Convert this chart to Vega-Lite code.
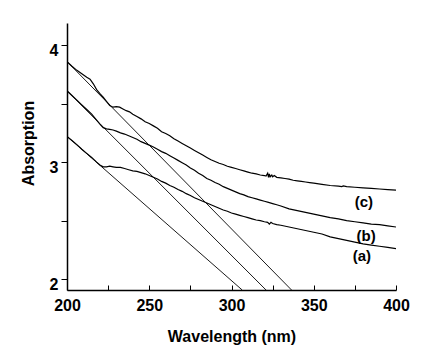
{
"$schema": "https://vega.github.io/schema/vega-lite/v6.json",
"width": 329, "height": 267,
"autosize": {"type": "none"},
"padding": {"left": 67, "top": 23, "right": 35, "bottom": 63},
"background": "white",
"config": {"view": {"stroke": null}, "font": "Liberation Sans"},
"datasets": {
"curves": [
{"s":"c","x":200,"y":3.86},{"s":"c","x":203,"y":3.82},{"s":"c","x":206,"y":3.785},{"s":"c","x":209,"y":3.755},{"s":"c","x":212,"y":3.725},{"s":"c","x":214,"y":3.71},{"s":"c","x":216,"y":3.67},{"s":"c","x":218,"y":3.62},{"s":"c","x":220,"y":3.585},{"s":"c","x":222,"y":3.555},{"s":"c","x":224,"y":3.52},{"s":"c","x":226,"y":3.485},{"s":"c","x":228,"y":3.47},{"s":"c","x":230,"y":3.475},{"s":"c","x":232,"y":3.47},{"s":"c","x":234,"y":3.455},{"s":"c","x":236,"y":3.44},{"s":"c","x":238,"y":3.43},{"s":"c","x":240,"y":3.41},{"s":"c","x":242.5,"y":3.39},{"s":"c","x":245,"y":3.37},{"s":"c","x":247.5,"y":3.345},{"s":"c","x":250,"y":3.33},{"s":"c","x":252.5,"y":3.31},{"s":"c","x":255,"y":3.29},{"s":"c","x":257.5,"y":3.26},{"s":"c","x":260,"y":3.245},{"s":"c","x":262.5,"y":3.225},{"s":"c","x":265,"y":3.2},{"s":"c","x":267.5,"y":3.18},{"s":"c","x":270,"y":3.16},{"s":"c","x":272.5,"y":3.14},{"s":"c","x":275,"y":3.12},{"s":"c","x":277.5,"y":3.1},{"s":"c","x":280,"y":3.08},{"s":"c","x":282.5,"y":3.06},{"s":"c","x":285,"y":3.04},{"s":"c","x":287.5,"y":3.02},{"s":"c","x":290,"y":3.005},{"s":"c","x":292.5,"y":2.99},{"s":"c","x":295,"y":2.98},{"s":"c","x":297.5,"y":2.965},{"s":"c","x":300,"y":2.955},{"s":"c","x":302.5,"y":2.945},{"s":"c","x":305,"y":2.935},{"s":"c","x":307.5,"y":2.925},{"s":"c","x":310,"y":2.915},{"s":"c","x":312.5,"y":2.905},{"s":"c","x":315,"y":2.9},{"s":"c","x":317.5,"y":2.89},{"s":"c","x":320,"y":2.885},{"s":"c","x":321,"y":2.88},{"s":"c","x":322,"y":2.905},{"s":"c","x":322.5,"y":2.87},{"s":"c","x":323,"y":2.9},{"s":"c","x":323.5,"y":2.875},{"s":"c","x":324.5,"y":2.89},{"s":"c","x":325,"y":2.875},{"s":"c","x":326,"y":2.885},{"s":"c","x":327.5,"y":2.87},{"s":"c","x":330,"y":2.865},{"s":"c","x":332.5,"y":2.86},{"s":"c","x":335,"y":2.855},{"s":"c","x":337.5,"y":2.845},{"s":"c","x":340,"y":2.84},{"s":"c","x":342.5,"y":2.835},{"s":"c","x":345,"y":2.83},{"s":"c","x":347.5,"y":2.825},{"s":"c","x":350,"y":2.82},{"s":"c","x":355,"y":2.81},{"s":"c","x":360,"y":2.8},{"s":"c","x":365,"y":2.795},{"s":"c","x":367,"y":2.79},{"s":"c","x":368,"y":2.797},{"s":"c","x":370,"y":2.79},{"s":"c","x":375,"y":2.785},{"s":"c","x":380,"y":2.78},{"s":"c","x":385,"y":2.775},{"s":"c","x":390,"y":2.77},{"s":"c","x":395,"y":2.765},{"s":"c","x":400,"y":2.76},
{"s":"b","x":200,"y":3.61},{"s":"b","x":203,"y":3.57},{"s":"b","x":206,"y":3.53},{"s":"b","x":209,"y":3.49},{"s":"b","x":212,"y":3.45},{"s":"b","x":215,"y":3.41},{"s":"b","x":218,"y":3.36},{"s":"b","x":220,"y":3.325},{"s":"b","x":222,"y":3.295},{"s":"b","x":224,"y":3.285},{"s":"b","x":226,"y":3.28},{"s":"b","x":228,"y":3.275},{"s":"b","x":230,"y":3.265},{"s":"b","x":232.5,"y":3.25},{"s":"b","x":235,"y":3.24},{"s":"b","x":237.5,"y":3.225},{"s":"b","x":240,"y":3.21},{"s":"b","x":242.5,"y":3.195},{"s":"b","x":245,"y":3.175},{"s":"b","x":247.5,"y":3.16},{"s":"b","x":250,"y":3.145},{"s":"b","x":252.5,"y":3.13},{"s":"b","x":255,"y":3.11},{"s":"b","x":257.5,"y":3.09},{"s":"b","x":260,"y":3.075},{"s":"b","x":262.5,"y":3.055},{"s":"b","x":265,"y":3.035},{"s":"b","x":267.5,"y":3.015},{"s":"b","x":270,"y":2.995},{"s":"b","x":272.5,"y":2.975},{"s":"b","x":275,"y":2.95},{"s":"b","x":277.5,"y":2.93},{"s":"b","x":280,"y":2.905},{"s":"b","x":282.5,"y":2.885},{"s":"b","x":285,"y":2.86},{"s":"b","x":287.5,"y":2.845},{"s":"b","x":290,"y":2.825},{"s":"b","x":292.5,"y":2.81},{"s":"b","x":295,"y":2.79},{"s":"b","x":297.5,"y":2.775},{"s":"b","x":300,"y":2.76},{"s":"b","x":302.5,"y":2.745},{"s":"b","x":305,"y":2.73},{"s":"b","x":307.5,"y":2.72},{"s":"b","x":310,"y":2.705},{"s":"b","x":312.5,"y":2.695},{"s":"b","x":315,"y":2.685},{"s":"b","x":317.5,"y":2.675},{"s":"b","x":320,"y":2.665},{"s":"b","x":322.5,"y":2.655},{"s":"b","x":325,"y":2.645},{"s":"b","x":327.5,"y":2.635},{"s":"b","x":330,"y":2.625},{"s":"b","x":335,"y":2.6},{"s":"b","x":340,"y":2.585},{"s":"b","x":345,"y":2.57},{"s":"b","x":350,"y":2.555},{"s":"b","x":355,"y":2.54},{"s":"b","x":360,"y":2.525},{"s":"b","x":365,"y":2.515},{"s":"b","x":370,"y":2.5},{"s":"b","x":375,"y":2.49},{"s":"b","x":380,"y":2.48},{"s":"b","x":385,"y":2.47},{"s":"b","x":390,"y":2.465},{"s":"b","x":395,"y":2.455},{"s":"b","x":400,"y":2.445},
{"s":"a","x":200,"y":3.22},{"s":"a","x":203,"y":3.185},{"s":"a","x":206,"y":3.15},{"s":"a","x":209,"y":3.11},{"s":"a","x":212,"y":3.075},{"s":"a","x":215,"y":3.04},{"s":"a","x":218,"y":3.0},{"s":"a","x":220,"y":2.975},{"s":"a","x":222,"y":2.96},{"s":"a","x":224,"y":2.96},{"s":"a","x":226,"y":2.965},{"s":"a","x":228,"y":2.96},{"s":"a","x":230,"y":2.955},{"s":"a","x":232.5,"y":2.955},{"s":"a","x":235,"y":2.945},{"s":"a","x":237.5,"y":2.935},{"s":"a","x":240,"y":2.925},{"s":"a","x":242.5,"y":2.92},{"s":"a","x":245,"y":2.91},{"s":"a","x":247.5,"y":2.9},{"s":"a","x":250,"y":2.885},{"s":"a","x":252.5,"y":2.87},{"s":"a","x":255,"y":2.855},{"s":"a","x":257.5,"y":2.835},{"s":"a","x":260,"y":2.82},{"s":"a","x":262.5,"y":2.8},{"s":"a","x":265,"y":2.785},{"s":"a","x":267.5,"y":2.765},{"s":"a","x":270,"y":2.75},{"s":"a","x":272.5,"y":2.73},{"s":"a","x":275,"y":2.715},{"s":"a","x":277.5,"y":2.695},{"s":"a","x":280,"y":2.68},{"s":"a","x":282.5,"y":2.665},{"s":"a","x":285,"y":2.65},{"s":"a","x":287.5,"y":2.635},{"s":"a","x":290,"y":2.62},{"s":"a","x":292.5,"y":2.605},{"s":"a","x":295,"y":2.59},{"s":"a","x":297.5,"y":2.58},{"s":"a","x":300,"y":2.565},{"s":"a","x":302.5,"y":2.555},{"s":"a","x":305,"y":2.545},{"s":"a","x":307.5,"y":2.535},{"s":"a","x":310,"y":2.525},{"s":"a","x":312.5,"y":2.515},{"s":"a","x":315,"y":2.505},{"s":"a","x":317.5,"y":2.5},{"s":"a","x":320,"y":2.49},{"s":"a","x":322,"y":2.485},{"s":"a","x":323,"y":2.47},{"s":"a","x":324,"y":2.485},{"s":"a","x":325,"y":2.475},{"s":"a","x":327.5,"y":2.465},{"s":"a","x":330,"y":2.46},{"s":"a","x":335,"y":2.445},{"s":"a","x":340,"y":2.43},{"s":"a","x":345,"y":2.415},{"s":"a","x":350,"y":2.4},{"s":"a","x":355,"y":2.385},{"s":"a","x":360,"y":2.36},{"s":"a","x":365,"y":2.345},{"s":"a","x":370,"y":2.33},{"s":"a","x":375,"y":2.315},{"s":"a","x":380,"y":2.3},{"s":"a","x":385,"y":2.29},{"s":"a","x":390,"y":2.28},{"s":"a","x":395,"y":2.27},{"s":"a","x":400,"y":2.26}
],
"tangents": [
{"s":"c","x":200,"y":3.86},{"s":"c","x":336.5,"y":1.906},
{"s":"b","x":200,"y":3.61},{"s":"b","x":321,"y":1.906},
{"s":"a","x":200,"y":3.22},{"s":"a","x":306.5,"y":1.906}
],
"labels": [
{"t":"(c)","x":380.5,"y":2.658},
{"t":"(b)","x":381.8,"y":2.368},
{"t":"(a)","x":379.3,"y":2.197}
]
},
"layer": [
{
"data": {"name": "curves"},
"mark": {"type": "line", "color": "black", "strokeWidth": 1.2, "clip": true},
"encoding": {
"x": {"field": "x", "type": "quantitative",
 "scale": {"domain": [200, 400], "nice": false, "zero": false},
 "axis": {"title": "Wavelength (nm)", "values": [200,225,250,275,300,325,350,375,400],
  "labelExpr": "datum.value % 50 === 0 ? datum.label : ''",
  "grid": false, "domainColor": "black", "domainWidth": 1.5, "tickColor": "black", "tickWidth": 1, "tickSize": -5,
  "labelFont": "Liberation Sans", "labelFontSize": 16, "labelFontWeight": "bold", "labelColor": "black", "labelPadding": 12,
  "labelFlush": false, "labelOverlap": false,
  "titleFont": "Liberation Sans", "titleFontSize": 16, "titleFontWeight": "bold", "titleColor": "black", "titlePadding": 15}},
"y": {"field": "y", "type": "quantitative",
 "scale": {"domain": [1.906, 4.19], "nice": false, "zero": false},
 "axis": {"title": "Absorption", "values": [2,2.5,3,3.5,4],
  "labelExpr": "datum.value % 1 === 0 ? format(datum.value, 'd') : ''",
  "grid": false, "domainColor": "black", "domainWidth": 1.5, "tickColor": "black", "tickWidth": 1, "tickSize": 6,
  "labelFont": "Liberation Sans", "labelFontSize": 16, "labelFontWeight": "bold", "labelColor": "black", "labelPadding": 3, "labelOffset": 5,
  "labelFlush": false, "labelOverlap": false,
  "titleFont": "Liberation Sans", "titleFontSize": 16, "titleFontWeight": "bold", "titleColor": "black", "titlePadding": 13, "titleY": 120}},
"detail": {"field": "s"}
}
},
{
"data": {"name": "tangents"},
"mark": {"type": "line", "color": "black", "strokeWidth": 0.9, "clip": true},
"encoding": {
"x": {"field": "x", "type": "quantitative"},
"y": {"field": "y", "type": "quantitative"},
"detail": {"field": "s"}
}
},
{
"data": {"name": "labels"},
"mark": {"type": "text", "font": "Liberation Sans", "fontSize": 15, "fontWeight": "bold", "color": "black"},
"encoding": {
"x": {"field": "x", "type": "quantitative"},
"y": {"field": "y", "type": "quantitative"},
"text": {"field": "t"}
}
}
]
}
